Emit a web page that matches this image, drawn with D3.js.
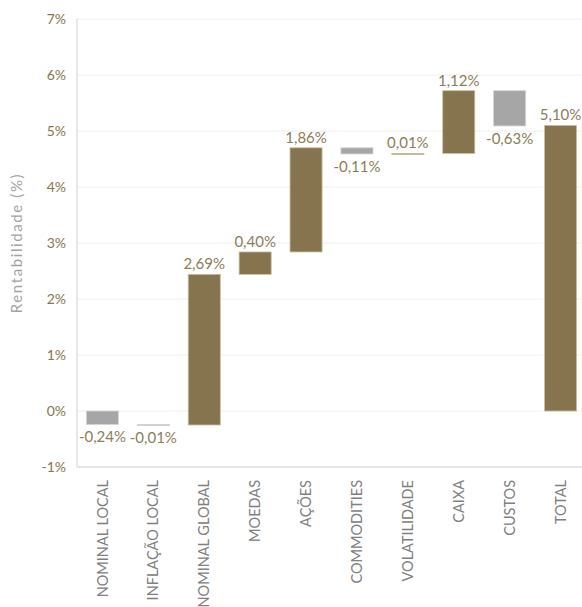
<!DOCTYPE html>
<html><head><meta charset="utf-8">
<script src="https://cdn.jsdelivr.net/npm/d3@7"></script>
<style>body{margin:0;background:#fff;} svg{display:block;}</style>
</head><body>
<svg id="c" width="582" height="607"></svg>
<script>
const categories = ["NOMINAL LOCAL","INFLAÇÃO LOCAL","NOMINAL GLOBAL","MOEDAS","AÇÕES","COMMODITIES","VOLATILIDADE","CAIXA","CUSTOS","TOTAL"];
const values = [-0.24, -0.01, 2.69, 0.40, 1.86, -0.11, 0.01, 1.12, -0.63, 5.10];
const labels = ["-0,24%","-0,01%","2,69%","0,40%","1,86%","-0,11%","0,01%","1,12%","-0,63%","5,10%"];
const yTicks = [-1,0,1,2,3,4,5,6,7];
const yTickLabels = ["-1%","0%","1%","2%","3%","4%","5%","6%","7%"];
const axisTitle = "Rentabilidade (%)";

const svg = d3.select("#c");
const font = "Lato, 'Open Sans', sans-serif";
const brown = "#85744d", gray = "#a6a6a6", labelCol = "#8c7d58";

const y = d3.scaleLinear().domain([-1,7]).range([467,19]);
const x = d3.scaleBand().domain(categories).range([77,586]).paddingInner(0.37).paddingOuter(0.185);

// gridlines
svg.append("g").selectAll("line").data(yTicks.filter(t=>t>-1)).join("line")
  .attr("x1",77).attr("x2",582).attr("y1",d=>y(d)).attr("y2",d=>y(d))
  .attr("stroke","#eeeeee").attr("stroke-width",1);
// bottom axis line
svg.append("line").attr("x1",77).attr("x2",582).attr("y1",y(-1)).attr("y2",y(-1))
  .attr("stroke","#dcdcdc").attr("stroke-width",1.5);
// left axis line
svg.append("line").attr("x1",77).attr("x2",77).attr("y1",y(7)).attr("y2",y(-1))
  .attr("stroke","#e0e0e0").attr("stroke-width",1.5);

// tick labels
svg.append("g").selectAll("text").data(yTicks).join("text")
  .attr("x",66).attr("y",d=>y(d)).attr("dy","0.35em")
  .attr("text-anchor","end").attr("font-family",font).attr("font-size",14)
  .attr("fill","#87764f").text((d,i)=>yTickLabels[i]);

// axis title
svg.append("text").attr("transform",`translate(22,${y(3)}) rotate(-90)`)
  .attr("text-anchor","middle").attr("font-family",font).attr("font-size",15)
  .attr("letter-spacing","1.6px")
  .attr("fill","#a3a3a3").text(axisTitle);

// waterfall
let cum = 0;
const bars = values.map((v,i)=>{
  let start, end;
  if (i === values.length-1) { start = 0; end = v; }
  else { start = cum; end = cum + v; cum = end; }
  return {cat:categories[i], v, start, end, label:labels[i]};
});

svg.append("g").selectAll("rect").data(bars).join("rect")
  .attr("x",d=>x(d.cat)).attr("width",x.bandwidth())
  .attr("y",d=>y(Math.max(d.start,d.end)))
  .attr("height",d=>Math.max(1.2, Math.abs(y(d.start)-y(d.end))))
  .attr("fill",d=>d.v<0?gray:brown)
  .attr("stroke",d=>d.v<0?"#d4d4d4":"#cbbf9f").attr("stroke-width",0.8);

svg.append("g").selectAll("text").data(bars).join("text")
  .attr("x",d=>x(d.cat)+x.bandwidth()/2)
  .attr("y",d=>d.v<0 ? y(Math.min(d.start,d.end))+18 : y(Math.max(d.start,d.end))-5)
  .attr("text-anchor","middle").attr("font-family",font).attr("font-size",15)
  .attr("fill",labelCol).text(d=>d.label);

// category labels
svg.append("g").selectAll("text").data(categories).join("text")
  .attr("transform",d=>`translate(${x(d)+x.bandwidth()/2},480) rotate(-90)`)
  .attr("dy","0.35em").attr("text-anchor","end")
  .attr("font-family",font).attr("font-size",14.5).attr("fill","#808080").text(d=>d);
</script>
</body></html>
